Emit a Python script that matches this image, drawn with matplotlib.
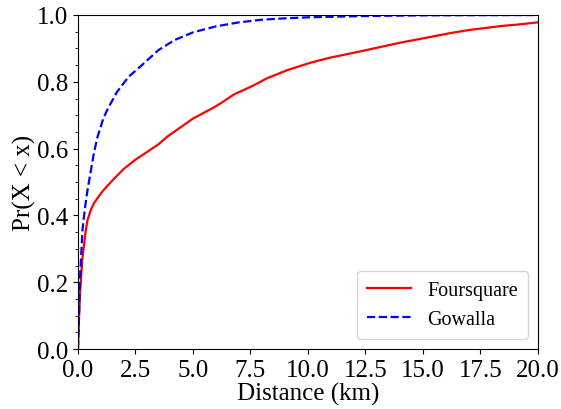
import numpy as np
import matplotlib
matplotlib.use('Agg')
from matplotlib import pyplot as plt
from matplotlib.ticker import MultipleLocator

# CDF points (distance in km, Pr(X < x))
fs_x = [0, 0.05, 0.09, 0.19, 0.33, 0.41, 0.55, 0.7, 0.85, 1.1, 1.5, 2.0, 2.5, 3.0, 3.5,
        3.9, 4.3, 5.0, 5.9, 6.3, 6.8, 7.6, 8.2, 9.1, 10.1, 11.0, 12.0, 13.0, 14.0, 15.0,
        16.2, 17.0, 18.4, 19.2, 20.0]
fs_y = [0, 0.10, 0.17, 0.27, 0.35, 0.385, 0.415, 0.437, 0.452, 0.475, 0.505, 0.54, 0.567, 0.59,
        0.613, 0.637, 0.656, 0.69, 0.723, 0.74, 0.763, 0.788, 0.81, 0.835, 0.857, 0.873,
        0.887, 0.902, 0.917, 0.93, 0.946, 0.955, 0.967, 0.972, 0.978]

gw_x = [0, 0.05, 0.1, 0.2, 0.3, 0.4, 0.55, 0.7, 0.85, 1.1, 1.3, 1.7, 2.2, 2.7, 3.5, 4.2, 5.0,
        6.0, 7.0, 8.0, 9.0, 10.0, 12.5, 15.0, 20.0]
gw_y = [0, 0.12, 0.23, 0.36, 0.42, 0.47, 0.53, 0.59, 0.635, 0.69, 0.72, 0.77, 0.815, 0.845,
        0.895, 0.925, 0.948, 0.966, 0.978, 0.986, 0.99, 0.993, 0.997, 0.999, 1.0]

plt.rcParams['font.family'] = ['Liberation Serif', 'DejaVu Serif']

fig = plt.figure(figsize=(5.61, 4.10), dpi=100)
ax = fig.add_axes([0.139, 0.146, 0.820, 0.815])
ax.plot(fs_x, fs_y, color='red', lw=1.6, label='Foursquare')
ax.plot(gw_x, gw_y, color='blue', lw=1.6, ls='--', label='Gowalla')

ax.set_xlim(0, 20)
ax.set_ylim(0, 1.0)
ax.xaxis.set_major_locator(MultipleLocator(2.5))
ax.yaxis.set_major_locator(MultipleLocator(0.2))
ax.yaxis.set_minor_locator(MultipleLocator(0.05))
ax.tick_params(labelsize=18)
ax.set_xlabel('Distance (km)', fontsize=18, labelpad=1)
ax.set_ylabel('Pr(X < x)', fontsize=18, labelpad=1)
ax.legend(loc='lower right', fontsize=14.5, handlelength=2.2, borderpad=0.5)

fig.savefig('out.png', dpi=100)
